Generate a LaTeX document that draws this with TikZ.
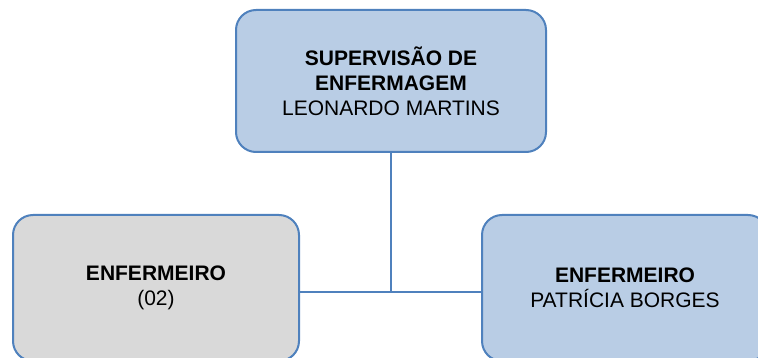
\documentclass[tikz,border=0pt]{standalone}
\usepackage{fontspec}
\setmainfont{Liberation Sans}
\usepackage{tikz}
\usetikzlibrary{calc, positioning}

\definecolor{boxblue}{HTML}{B9CDE5}
\definecolor{boxgray}{HTML}{D9D9D9}
\definecolor{edgeblue}{HTML}{4F81BD}

\begin{document}
\begin{tikzpicture}[
    x=1pt, y=-1pt,
    font=\fontsize{21}{25}\selectfont,
    orgbox/.style={
        rectangle, draw=edgeblue, line width=2pt, fill=boxblue,
        rounded corners=20pt, align=center, inner sep=4pt
    },
    staffbox/.style={
        orgbox, minimum width=286pt, minimum height=146pt
    },
    link/.style={
        line width=1.6pt, draw=edgeblue
    }
]
    \useasboundingbox (0,0) rectangle (758,358);
    \clip (0,0) rectangle (758,358);

    % =========================================================================
    % SUPERVISION (TOP)
    % =========================================================================
    \node [orgbox, minimum width=310pt, minimum height=142pt] (supervisao) at (391,81)
        {\textbf{SUPERVISÃO DE}\\\textbf{ENFERMAGEM}\\LEONARDO MARTINS};

    % =========================================================================
    % NURSES (BOTTOM)
    % =========================================================================
    \node [staffbox, fill=boxgray] (enf_left) at (156,288) {\textbf{ENFERMEIRO}\\(02)};
    \node [staffbox] (enf_right) at (625,288) {\textbf{ENFERMEIRO}\\PATRÍCIA BORGES};

    % =========================================================================
    % CONNECTORS
    % =========================================================================
    \coordinate (hub) at (supervisao.south |- 0,292);
    \draw [link] (supervisao.south) -- (hub);
    \draw [link] (enf_left.east |- hub) -- (enf_right.west |- hub);

\end{tikzpicture}
\end{document}
